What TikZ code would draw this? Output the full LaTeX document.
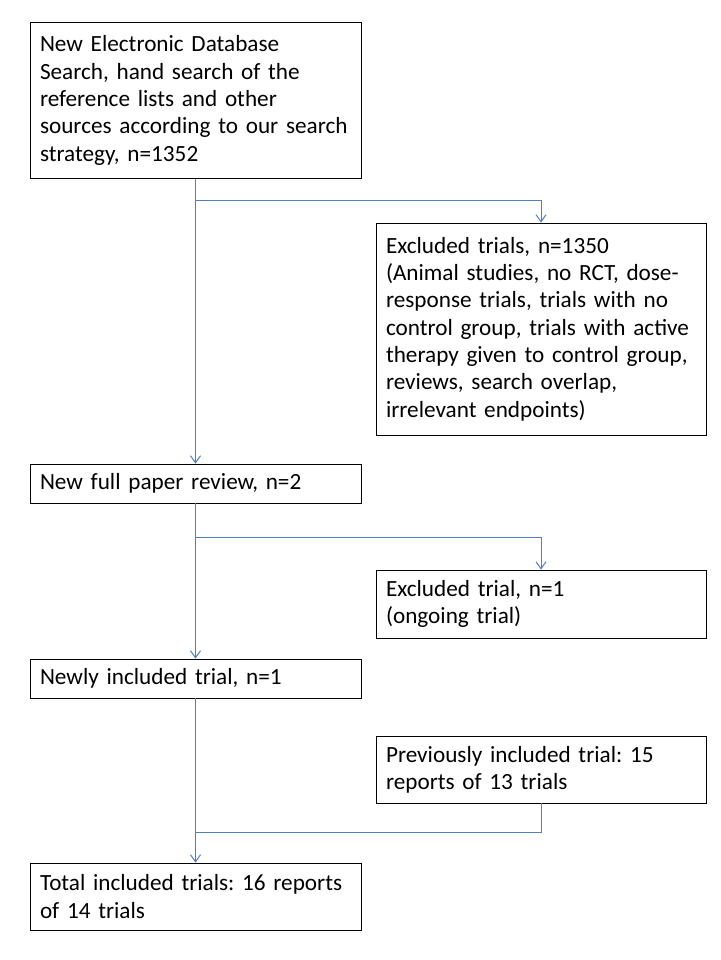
\documentclass[tikz,border=0pt]{standalone}
\usepackage{fontspec}
\setmainfont{Carlito}
\usetikzlibrary{arrows.meta}
\definecolor{linkblue}{RGB}{79,129,189}
\tikzset{
  box/.style={draw=black, line width=0.8pt, inner xsep=10pt, inner ysep=0pt,
    align=left, font=\fontsize{23.2}{27.3}\selectfont\frenchspacing, anchor=center},
  arr/.style={draw=linkblue, line width=1pt, -{Straight Barb[length=7pt,width=10pt]}},
  link/.style={draw=linkblue, line width=1pt}
}
\begin{document}
\begin{tikzpicture}[x=1pt,y=-1pt]
\path[use as bounding box, fill=white] (0,0) rectangle (720,960);

\node[box, text width=311pt, minimum height=155.6pt] (b1) at (195.5,100.5)
  {New Electronic Database\\Search, hand search of the\\reference lists and other\\sources according to our search\\strategy, n=1352};
\node[box, text width=310pt, minimum height=212pt] (b2) at (541,329)
  {Excluded trials, n=1350\\(Animal studies, no RCT, dose-\\response trials, trials with no\\control group, trials with active\\therapy given to control group,\\reviews, search overlap,\\irrelevant endpoints)};
\node[box, text width=311pt, minimum height=39pt] (b3) at (195.5,483.5)
  {New full paper review, n=2};
\node[box, text width=310pt, minimum height=68pt] (b4) at (541,604)
  {Excluded trial, n=1\\(ongoing trial)};
\node[box, text width=311pt, minimum height=39pt] (b5) at (195.5,678.5)
  {Newly included trial, n=1};
\node[box, text width=310pt, minimum height=67pt] (b6) at (541,769.5)
  {Previously included trial: 15\\reports of 13 trials};
\node[box, text width=311pt, minimum height=67pt] (b7) at (195.5,896.5)
  {Total included trials: 16 reports\\of 14 trials};

\coordinate (j1) at (195.5,200);
\coordinate (j2) at (195.5,537.3);
\coordinate (j3) at (195.5,832.7);

\draw[arr] (b1.south) -- (b3.north);
\draw[arr] (j1) -| (b2.north);
\draw[arr] (b3.south) -- (b5.north);
\draw[arr] (j2) -| (b4.north);
\draw[arr] (b5.south) -- (b7.north);
\draw[link] (b6.south) |- (j3);
\end{tikzpicture}
\end{document}
